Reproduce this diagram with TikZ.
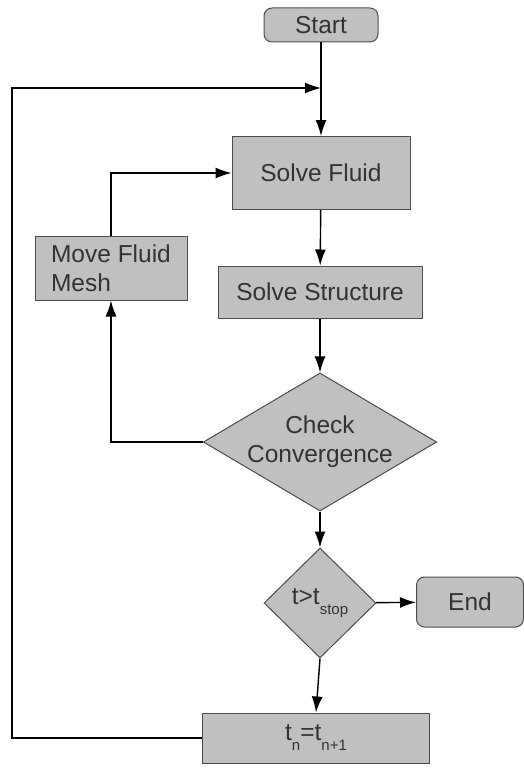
\documentclass[tikz,border=0pt]{standalone}
\usepackage{fontspec}
\setmainfont{Liberation Sans}
\usetikzlibrary{arrows.meta,shapes.geometric,positioning}
\definecolor{boxgray}{HTML}{C0C0C0}
\definecolor{txtgray}{HTML}{333333}
\newcommand{\lowsub}[1]{\raisebox{-10pt}{\fontsize{15}{15}\selectfont #1}}

\begin{document}
\begin{tikzpicture}[x=1pt, y=-1pt, line width=1.4pt,
  box/.style = {draw=black!70, line width=1pt, fill=boxgray, text=txtgray, inner sep=0pt, font=\fontsize{24.5}{29}\selectfont},
  term/.style = {box, rounded corners=8pt},
  dec/.style = {box, diamond, align=center},
  arr/.style = {-{Latex[length=16pt, width=11pt]}}]
\useasboundingbox (0,0) rectangle (524,768);

\node[term, minimum width=114, minimum height=34] (start) at (321,25) {Start};
\node[box, minimum width=178, minimum height=73] (fluid) at (321,173) {Solve Fluid};
\node[box, minimum width=152, minimum height=64, align=left] (mesh) at (111,268) {Move Fluid\\Mesh};
\node[box, minimum width=204, minimum height=52] (struct) at (320,292) {Solve Structure};
\node[dec, aspect=1.69, minimum width=233, minimum height=138] (conv) at (320,442) {Check\\Convergence};
\node[dec, aspect=1.02, minimum width=112, minimum height=110] (stop) at (320,603) {t>t\lowsub{stop}};
\node[term, minimum width=107, minimum height=50] (end) at (470,602) {End};
\node[box, minimum width=227, minimum height=50] (tn) at (316,738) {t\lowsub{n}=t\lowsub{n+1}};

\coordinate (join) at (321,88);
\coordinate (loop) at (12,0);

\draw[arr] (start) -- (fluid);
\draw[arr] (fluid) -- (struct);
\draw[arr] (struct) -- (conv);
\draw[arr] (conv) -- (stop);
\draw[arr] (stop) -- (end);
\draw[arr] (stop.south) -- (tn.north);

\draw[arr] (conv.west) -| (mesh.south);
\draw[arr] (mesh.north) |- (fluid.west);

\draw[arr] (tn.west) -- (tn.west -| loop) |- (join);

\end{tikzpicture}
\end{document}
